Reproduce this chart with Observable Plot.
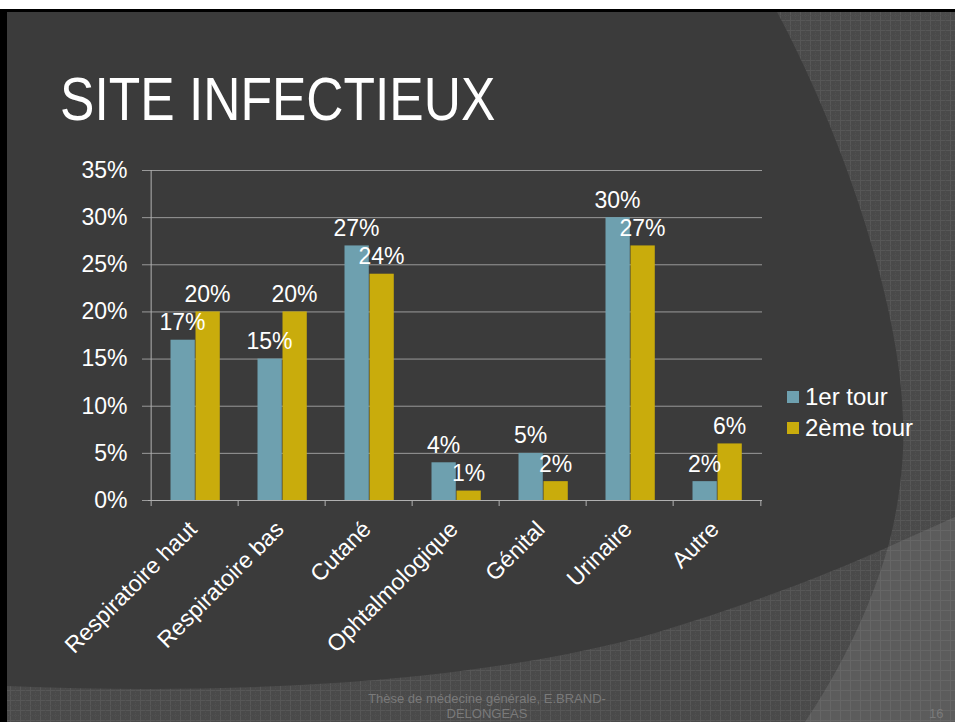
<!DOCTYPE html>
<html>
<head>
<meta charset="utf-8">
<script src="https://cdn.jsdelivr.net/npm/d3@7"></script>
<script src="https://cdn.jsdelivr.net/npm/@observablehq/plot@0.6"></script>
<style>
  html, body { margin: 0; padding: 0; background: #ffffff; }
  #page { position: relative; width: 955px; height: 722px; overflow: hidden; }
  #bg { position: absolute; left: 0; top: 0; }
  #title { position: absolute; left: 60px; top: 69px; font-family: "Liberation Sans", Arial, sans-serif; font-size: 61px; line-height: 61px; color: #ffffff; white-space: nowrap; transform: scaleX(0.845); transform-origin: left top; }
  #chart { position: absolute; left: 0; top: 140px; }
  #legend { position: absolute; left: 787px; top: 381px; font-family: "Liberation Sans", Arial, sans-serif; font-size: 24px; color: #ffffff; }
  .row { display: flex; align-items: center; height: 31px; }
  .sw { width: 12px; height: 12px; margin-right: 6px; }
  #footer { position: absolute; left: 337px; width: 300px; top: 691px; text-align: center; font-family: "Liberation Sans", Arial, sans-serif; font-size: 13px; line-height: 15px; color: #7a7a7a; white-space: nowrap; }
  #num { position: absolute; left: 929px; top: 706px; font-family: "Liberation Sans", Arial, sans-serif; font-size: 13px; line-height: 15px; color: #7a7a7a; }
</style>
</head>
<body>
<div id="page">
  <svg id="bg" width="955" height="722" xmlns="http://www.w3.org/2000/svg">
    <defs>
      <pattern id="pm" width="10" height="10" patternUnits="userSpaceOnUse">
        <rect width="10" height="10" fill="#4a4a4a"/>
        <path d="M0 0.5H10M0.5 0V10" stroke="#575757" stroke-width="1"/>
        <path d="M0 5.5H10M5.5 0V10" stroke="#505050" stroke-width="1" stroke-dasharray="1 1"/>
      </pattern>
      <pattern id="pl" width="10" height="10" patternUnits="userSpaceOnUse">
        <rect width="10" height="10" fill="#5c5c5c"/>
        <path d="M0 0.5H10M0.5 0V10" stroke="#666666" stroke-width="1"/>
      </pattern>
    </defs>
    <rect x="0" y="9" width="955" height="713" fill="#000000"/>
    <rect x="7" y="12" width="948" height="710" fill="url(#pm)"/>
    <path d="M7,12 L777,12 C840,130 900,300 903,420 C905,460 898,510 888,547 C820,578 740,607 655,633 C520,672 300,698 7,686 Z" fill="#3b3b3b"/>
    <path d="M888,547 L955,517 L955,722 L805,722 C840,670 870,610 888,547 Z" fill="url(#pl)"/>
  </svg>
  <div id="title">SITE INFECTIEUX</div>
  <div id="chart"></div>
  <div id="legend"></div>
  <div id="footer">Thèse de médecine générale, E.BRAND-<br>DELONGEAS</div>
  <div id="num">16</div>
</div>
<script>
// ---- data ----
const categories = ["Respiratoire haut", "Respiratoire bas", "Cutané", "Ophtalmologique", "Génital", "Urinaire", "Autre"];
const series = ["1er tour", "2ème tour"];
const tour1 = [17, 15, 27, 4, 5, 30, 2];
const tour2 = [20, 20, 24, 1, 2, 27, 6];
const yTicks = [0, 5, 10, 15, 20, 25, 30, 35];
const colors = ["#6ea0af", "#c9ac0c"];

const rows = [];
categories.forEach((c, i) => {
  rows.push({cat: c, serie: series[0], value: tour1[i]});
  rows.push({cat: c, serie: series[1], value: tour2[i]});
});
const r1 = rows.filter(d => d.serie === series[0]);
const r2 = rows.filter(d => d.serie === series[1]);

const W = 955, H = 560;
const mL = 148, mR = 193, mT = 30, mB = 200;
const step = (W - mL - mR) / categories.length;
const grid = "#9a9a9a";

const chart = Plot.plot({
  width: W, height: H,
  marginLeft: mL, marginRight: mR, marginTop: mT, marginBottom: mB,
  style: {background: "transparent", color: "#ffffff", fontFamily: "'Liberation Sans', Arial, sans-serif", fontSize: "23px", overflow: "visible"},
  x: {type: "band", domain: categories, padding: 0, label: null},
  y: {domain: [0, 35], label: null},
  color: {domain: series, range: colors},
  marks: [
    Plot.gridY(yTicks.slice(1), {stroke: grid, strokeOpacity: 1, strokeWidth: 1}),
    Plot.barY(r1, {x: "cat", y: "value", fill: "serie", insetLeft: 19.5, insetRight: step - 44.5}),
    Plot.barY(r2, {x: "cat", y: "value", fill: "serie", insetLeft: 44.5, insetRight: step - 69.5}),
    Plot.ruleY([0], {stroke: "#b0b0b0"}),
    Plot.ruleX([categories[0]], {dx: -step / 2, stroke: "#b0b0b0"}),
    Plot.axisY(yTicks, {tickSize: 6, fill: "none", stroke: grid}),
    Plot.axisY(yTicks, {tickSize: 0, tickPadding: 21, stroke: "none", fill: "#ffffff", fontSize: 23, tickFormat: d => d + "%", label: null}),
    Plot.axisX(categories, {tickSize: 6, fill: "none", stroke: "#b0b0b0", dx: -step / 2}),
    Plot.axisX([categories[categories.length - 1]], {tickSize: 6, fill: "none", stroke: "#b0b0b0", dx: step / 2}),
    Plot.axisX(categories, {tickSize: 0, tickPadding: 25, stroke: "none", fill: "#ffffff", fontSize: 23, tickRotate: -45, dx: -2, label: null}),
    Plot.text(r1, {x: "cat", y: "value", text: d => d.value + "%", dx: -12.5, dy: -17.5, fill: "#ffffff", fontSize: 23}),
    Plot.text(r2, {x: "cat", y: "value", text: d => d.value + "%", dx: 12.5, dy: -17.5, fill: "#ffffff", fontSize: 23})
  ]
});
document.getElementById("chart").appendChild(chart);

const legend = document.getElementById("legend");
series.forEach((s, i) => {
  const row = document.createElement("div");
  row.className = "row";
  const sw = document.createElement("div");
  sw.className = "sw";
  sw.style.background = colors[i];
  const t = document.createElement("span");
  t.textContent = s;
  row.appendChild(sw);
  row.appendChild(t);
  legend.appendChild(row);
});
</script>
</body>
</html>
